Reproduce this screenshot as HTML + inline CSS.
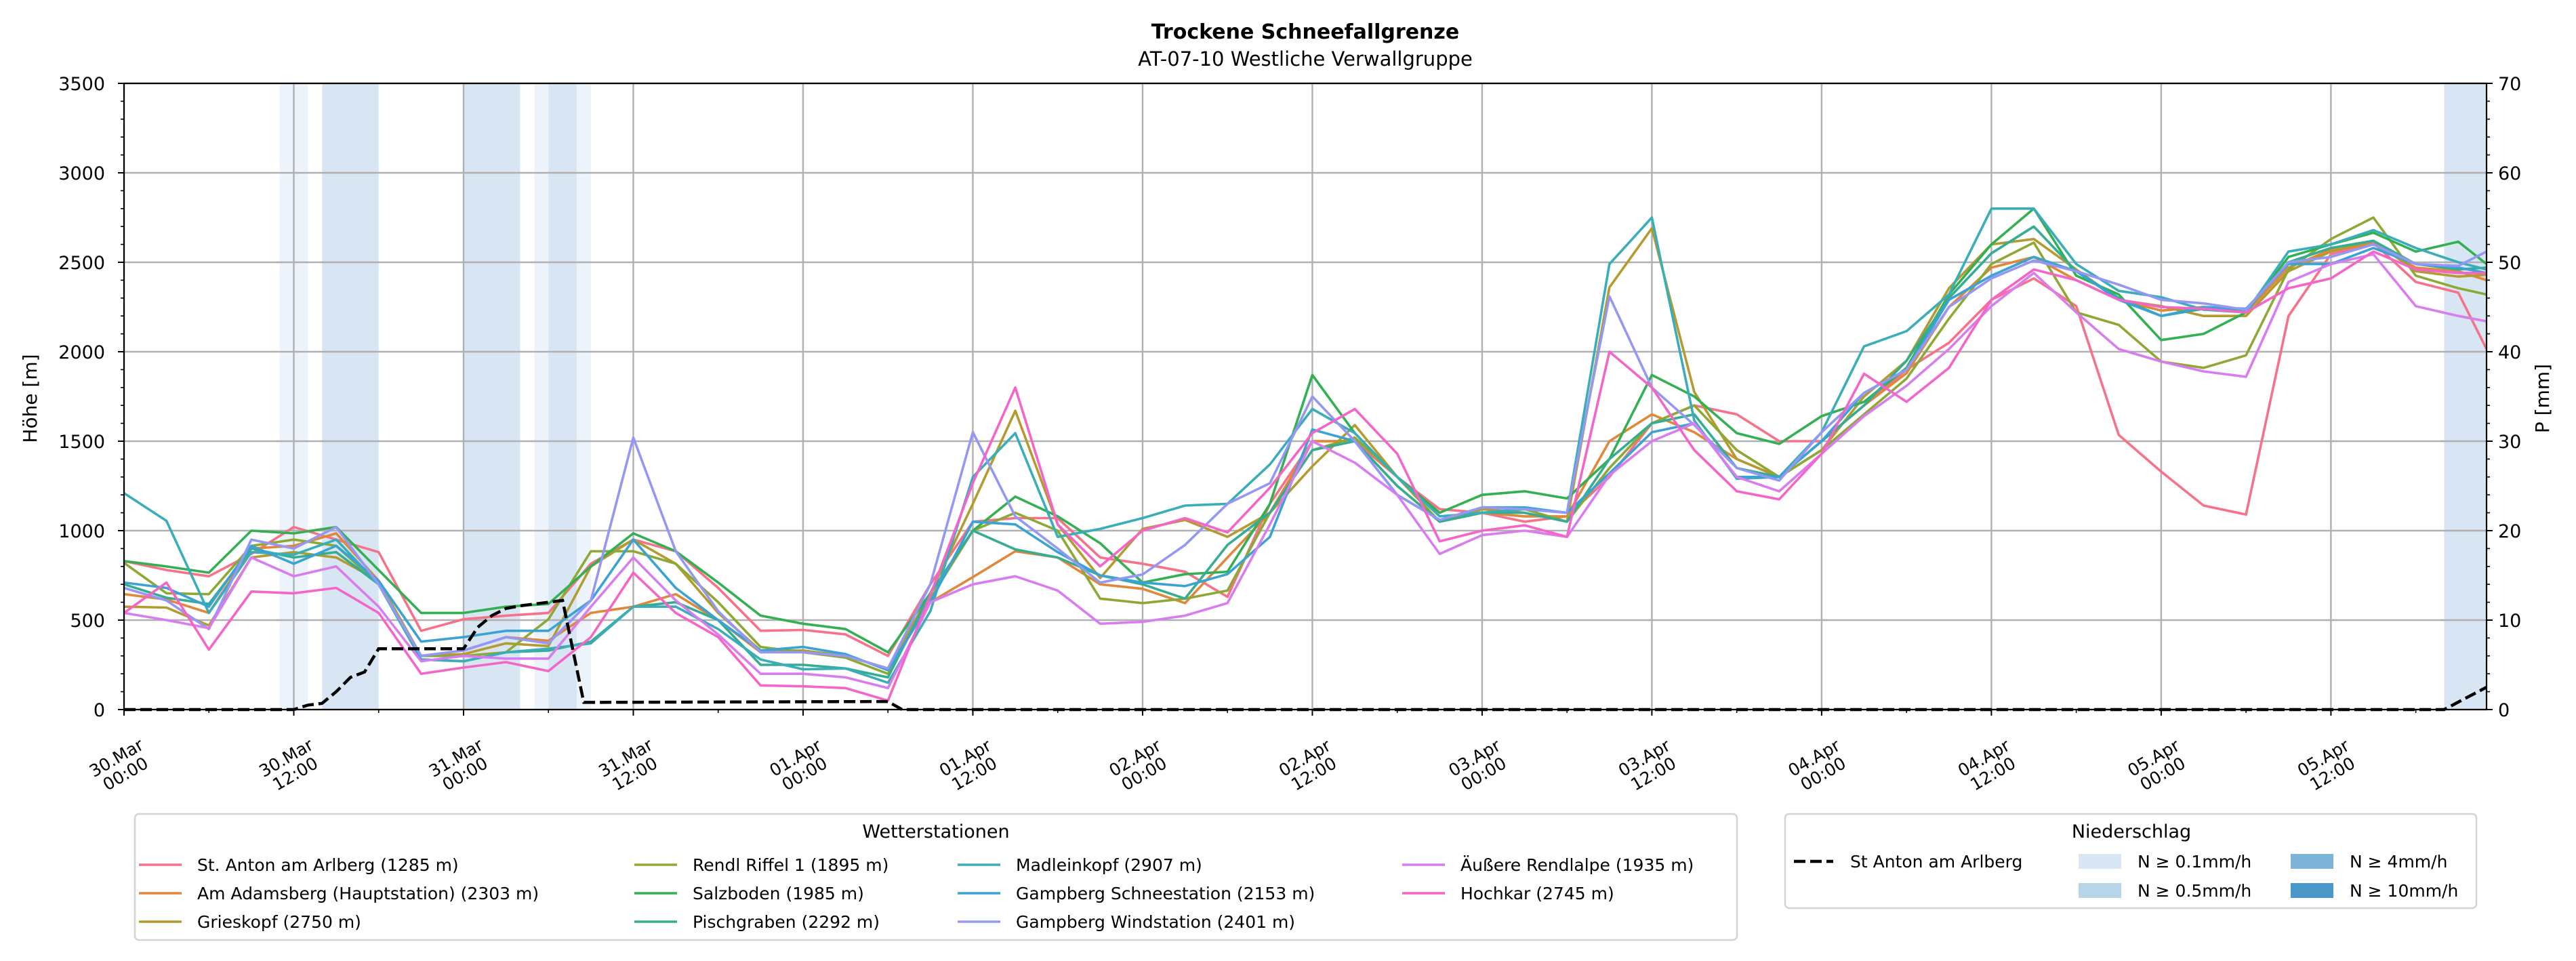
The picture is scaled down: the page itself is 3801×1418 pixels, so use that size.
<!DOCTYPE html>
<html><head><meta charset="utf-8"><style>
html,body{margin:0;padding:0;background:#fff;}
svg{display:block;font-family:"DejaVu Sans","Liberation Sans",sans-serif;}
</style></head><body>
<svg id="chart" xmlns="http://www.w3.org/2000/svg" width="3801" height="1418" viewBox="0 0 3801 1418">
<rect x="0" y="0" width="3801" height="1418" fill="#fff"/>
<text x="1926" y="57" text-anchor="middle" font-size="30" font-weight="bold">Trockene Schneefallgrenze</text>
<text x="1926" y="97" text-anchor="middle" font-size="29">AT-07-10 Westliche Verwallgruppe</text>
<g id="bands"></g>
<g id="grid"></g>
<g id="series"></g>
<g id="precip"></g>
<g id="axes"></g>
<text transform="translate(54,588) rotate(-90)" text-anchor="middle" font-size="28">Höhe [m]</text>
<text transform="translate(3761,588) rotate(-90)" text-anchor="middle" font-size="28">P [mm]</text>
<g id="legend1"></g>
<g id="legend2"></g>
</svg>
<script>
const hours=[0,3,6,9,12,15,18,21,24,27,30,33,36,39,42,45,48,51,54,57,60,63,66,69,72,75,78,81,84,87,90,93,96,99,102,105,108,111,114,117,120,123,126,129,132,135,138,141,144,147,150,153,156,159,162,165,167];
const stationNames=["St. Anton am Arlberg (1285 m)","Am Adamsberg (Hauptstation) (2303 m)","Grieskopf (2750 m)","Rendl Riffel 1 (1895 m)","Salzboden (1985 m)","Pischgraben (2292 m)","Madleinkopf (2907 m)","Gampberg Schneestation (2153 m)","Gampberg Windstation (2401 m)","Äußere Rendlalpe (1935 m)","Hochkar (2745 m)"];
const stationColors=["#f77189","#e0883a","#b49b30","#8ea834","#33b052","#36ad93","#3aaeb8","#3ba3d4","#9497f4","#d97cf0","#f565c9"];
const sAnton=[830,780,745,870,1020,950,880,440,505,525,540,815,950,885,680,440,445,420,300,700,1050,1070,1070,850,815,770,630,1150,1500,1500,1300,1120,1100,1050,1080,1300,1600,1700,1650,1500,1500,1700,1900,2050,2290,2410,2255,1535,1330,1140,1090,2200,2545,2610,2390,2330,2015];
const sAdams=[645,615,540,900,915,985,720,300,330,405,385,540,575,645,500,320,330,300,230,600,740,885,850,700,675,595,850,1100,1500,1500,1250,1050,1100,1080,1080,1500,1650,1550,1400,1300,1500,1700,1880,2250,2470,2530,2400,2290,2230,2250,2220,2470,2570,2600,2470,2450,2400];
const sGries=[575,570,470,850,880,850,720,300,310,370,355,800,950,815,540,330,330,300,230,650,1150,1670,1035,735,1010,1060,965,1100,1360,1590,1300,1050,1120,1100,1050,2360,2690,1775,1400,1300,1450,1750,1950,2355,2600,2630,2460,2290,2255,2200,2200,2450,2560,2620,2450,2420,2430];
const sRendl=[820,650,645,915,950,915,700,300,300,320,505,885,885,815,600,350,320,290,200,620,1000,1100,1000,620,595,620,665,1100,1450,1520,1300,1050,1100,1120,1050,1350,1600,1700,1450,1300,1450,1650,1850,2185,2490,2610,2220,2150,1945,1910,1980,2460,2630,2750,2425,2355,2320];
const sSalz=[830,800,765,1000,985,1020,780,540,540,575,590,800,985,885,710,525,480,450,320,650,1000,1190,1080,930,710,757,770,1150,1870,1545,1300,1100,1200,1220,1180,1400,1870,1750,1545,1485,1640,1720,1910,2320,2600,2800,2425,2320,2065,2100,2220,2530,2600,2665,2560,2615,2490];
const sPisch=[700,625,590,900,850,880,700,280,270,320,330,380,575,600,500,250,250,230,180,650,1000,895,850,750,700,620,920,1100,1450,1500,1250,1050,1100,1100,1050,1400,1600,1650,1350,1300,1500,1700,1950,2300,2550,2700,2450,2300,2200,2240,2230,2500,2580,2620,2490,2460,2470];
const sMadl=[1210,1055,540,880,865,950,700,280,270,320,340,370,575,575,450,280,225,230,150,550,1300,1545,965,1010,1070,1140,1150,1370,1680,1545,1300,1080,1100,1120,1100,2490,2750,1615,1290,1300,1550,2030,2115,2320,2800,2800,2490,2340,2305,2235,2220,2560,2600,2680,2580,2500,2460];
const sSchnee=[710,680,575,915,815,915,720,380,405,440,440,610,950,680,500,330,350,310,220,600,1050,1035,880,750,710,690,757,965,1565,1500,1200,1060,1130,1130,1100,1320,1550,1600,1300,1300,1500,1770,1900,2290,2425,2530,2450,2290,2200,2250,2240,2490,2490,2580,2490,2470,2440];
const sWind=[680,610,450,950,900,1020,700,300,330,405,370,610,1520,885,550,320,320,300,230,700,1550,1080,900,710,755,920,1150,1265,1750,1500,1200,1060,1130,1120,1100,2310,1800,1590,1350,1280,1550,1770,1900,2250,2410,2510,2450,2375,2290,2270,2235,2500,2530,2600,2490,2480,2560];
const sAeuss=[540,500,455,850,745,800,575,270,300,285,285,575,850,610,420,200,200,180,120,600,700,745,665,480,490,525,595,1035,1500,1380,1200,870,975,1000,965,1310,1500,1600,1300,1220,1430,1640,1810,2015,2255,2440,2220,2015,1945,1890,1860,2390,2490,2545,2255,2200,2170];
const sHoch=[540,710,335,660,650,680,540,200,235,265,215,405,765,540,405,135,130,120,50,640,1266,1800,1035,800,1000,1070,990,1240,1545,1680,1430,940,1000,1030,965,2000,1800,1450,1220,1175,1430,1877,1720,1910,2290,2460,2400,2290,2250,2240,2220,2355,2410,2560,2460,2440,2440];
const stationSeries=[sAnton,sAdams,sGries,sRendl,sSalz,sPisch,sMadl,sSchnee,sWind,sAeuss,sHoch];
const precipHours=[0,12,13,14,15,16,17,18,24,25,26,27,28,30,31,32.5,54,55,164,167];
const precipValues=[0,0,0.5,0.7,2,3.6,4.2,6.8,6.8,9.2,10.5,11.3,11.6,12,12.2,0.8,0.9,0,0,2.5];
const bandStart=[11,14,24,29,30,164];
const bandEnd=[13,18,28,33,32,167];
const bandLevel=["light","mid","mid","light","mid","mid"];
const yTicks=[0,500,1000,1500,2000,2500,3000,3500];
const pTicks=[0,10,20,30,40,50,60,70];
const xTickHours=[0,12,24,36,48,60,72,84,96,108,120,132,144,156];
const xTickLine1=["30.Mar","30.Mar","31.Mar","31.Mar","01.Apr","01.Apr","02.Apr","02.Apr","03.Apr","03.Apr","04.Apr","04.Apr","05.Apr","05.Apr"];
const xTickLine2=["00:00","12:00","00:00","12:00","00:00","12:00","00:00","12:00","00:00","12:00","00:00","12:00","00:00","12:00"];

const NS="http://www.w3.org/2000/svg";
const L=183,R=3669,T=123,B=1047,HMAX=167;
const xS=h=>L+h*(R-L)/HMAX;
const yS=v=>B-v*(B-T)/3500;
const pS=p=>B-p*(B-T)/70;
function mk(tag,attrs,parent){const e=document.createElementNS(NS,tag);for(const k in attrs)e.setAttribute(k,attrs[k]);parent.appendChild(e);return e;}
const bandsG=document.getElementById('bands'),gridG=document.getElementById('grid'),serG=document.getElementById('series'),prG=document.getElementById('precip'),axG=document.getElementById('axes');
const bandCol={light:"#edf3fa",mid:"#d8e6f3"};
bandStart.forEach((s,i)=>{
  const r=mk('rect',{x:xS(s),y:T,width:xS(bandEnd[i])-xS(s),height:B-T,fill:bandCol[bandLevel[i]]},bandsG);
  
  
});
yTicks.forEach(v=>{
  const l=mk('line',{x1:L,x2:R,y1:yS(v),y2:yS(v),stroke:"#b0b0b0","stroke-width":2.4},gridG);
  
  
  const t=mk('text',{x:155,y:yS(v)+10,"text-anchor":"end","font-size":27},axG);t.textContent=v;
  
  
  mk('line',{x1:L-9,x2:L,y1:yS(v),y2:yS(v),stroke:"#000","stroke-width":2},axG);
});
for(let v=0;v<=3500;v+=100){mk('line',{x1:L-5,x2:L,y1:yS(v),y2:yS(v),stroke:"#000","stroke-width":1.6},axG);}
pTicks.forEach(p=>{
  const t=mk('text',{x:3686,y:pS(p)+10,"font-size":27},axG);t.textContent=p;
  
  
  mk('line',{x1:R,x2:R+9,y1:pS(p),y2:pS(p),stroke:"#000","stroke-width":2},axG);
});
for(let p=0;p<=70;p+=2){mk('line',{x1:R,x2:R+5,y1:pS(p),y2:pS(p),stroke:"#000","stroke-width":1.6},axG);}
xTickHours.forEach((h,i)=>{
  const x=xS(h);
  const l=mk('line',{x1:x,x2:x,y1:T,y2:B,stroke:"#b0b0b0","stroke-width":2.4},gridG);
  
  
  mk('line',{x1:x,x2:x,y1:B,y2:B+9,stroke:"#000","stroke-width":2},axG);
  const t=mk('text',{transform:`translate(${x-4},${B+84}) rotate(-30)`,"text-anchor":"middle","font-size":25},axG);
  
  
  const a=mk('tspan',{x:0,dy:-6},t);a.textContent=xTickLine1[i];
  const b=mk('tspan',{x:0,dy:27},t);b.textContent=xTickLine2[i];
});
for(let h=6;h<=HMAX;h+=12){mk('line',{x1:xS(h),x2:xS(h),y1:B,y2:B+5,stroke:"#000","stroke-width":1.6},axG);}
stationSeries.forEach((arr,si)=>{
  const pts=arr.map((v,i)=>xS(hours[i]).toFixed(1)+","+yS(v).toFixed(1)).join(" ");
  const pl=mk('polyline',{points:pts,fill:"none",stroke:stationColors[si],"stroke-width":3.6,"stroke-linejoin":"round"},serG);
  
  
});
const ppts=precipHours.map((h,i)=>xS(h).toFixed(1)+","+pS(precipValues[i]).toFixed(1)).join(" ");
const pp=mk('polyline',{points:ppts,fill:"none",stroke:"#000","stroke-width":4.5,"stroke-dasharray":"17,7"},prG);


mk('rect',{x:L,y:T,width:R-L,height:B-T,fill:"none",stroke:"#000","stroke-width":2.2},axG);

const lg1=document.getElementById('legend1');
mk('rect',{x:199,y:1201,width:2364,height:186,rx:6,fill:"#fff",stroke:"#d4d4d4","stroke-width":2.5},lg1);
const lt=mk('text',{x:1381,y:1236,"text-anchor":"middle","font-size":27},lg1);lt.textContent="Wetterstationen";


const colX=[205,936,1413,2069];
const rowY=[1276,1318,1360];
const order=[[0,1,2],[3,4,5],[6,7,8],[9,10]];
order.forEach((col,ci)=>col.forEach((si,ri)=>{
  const g=mk('g',{},lg1);
  
  
  mk('line',{x1:colX[ci],x2:colX[ci]+63,y1:rowY[ri],y2:rowY[ri],stroke:stationColors[si],"stroke-width":3.6},g);
  const t=mk('text',{x:colX[ci]+86,y:rowY[ri]+9,"font-size":25},g);t.textContent=stationNames[si];
}));
const lg2=document.getElementById('legend2');
mk('rect',{x:2634,y:1201,width:1020,height:139,rx:6,fill:"#fff",stroke:"#d4d4d4","stroke-width":2.5},lg2);
const lt2=mk('text',{x:3145,y:1236,"text-anchor":"middle","font-size":27},lg2);lt2.textContent="Niederschlag";


mk('line',{x1:2647,x2:2705,y1:1271,y2:1271,stroke:"#000","stroke-width":4.5,"stroke-dasharray":"17,7"},lg2);
const t0=mk('text',{x:2730,y:1280,"font-size":25},lg2);t0.textContent="St Anton am Arlberg";


const patches=[[3067,1271,"#d9e7f4","N ≥ 0.1mm/h"],[3067,1314,"#b8d4e9","N ≥ 0.5mm/h"],[3380,1271,"#7db4d8","N ≥ 4mm/h"],[3380,1314,"#4a97c9","N ≥ 10mm/h"]];
patches.forEach(p=>{
  const g=mk('g',{},lg2);
  
  
  mk('rect',{x:p[0],y:p[1]-11,width:63,height:22,fill:p[2]},g);
  const t=mk('text',{x:p[0]+87,y:p[1]+9,"font-size":25},g);t.textContent=p[3];
});
</script>
</body></html>
